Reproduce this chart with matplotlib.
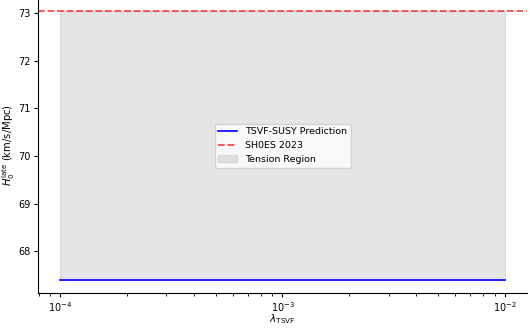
import numpy as np
import matplotlib.pyplot as plt

# values
lam_tsvf = [1e-4, 1e-3, 1e-2]
h0_pred = [67.4, 67.4, 67.4]
h0_shoes = 73.04

plt.rcParams['font.size'] = 7

fig = plt.figure(figsize=(5.3, 3.3), dpi=100)
ax = fig.add_axes([38 / 530, 37 / 330, 489 / 530, 295 / 330])

ax.plot(lam_tsvf, h0_pred, color='blue', lw=1.2, label='TSVF-SUSY Prediction')
ax.axhline(h0_shoes, color='red', ls='--', lw=1.3, alpha=0.7, label='SH0ES 2023')
ax.fill_between(lam_tsvf, h0_pred, h0_shoes, color='gray', alpha=0.2,
                label='Tension Region')

ax.set_xscale('log')
ax.set_xlim(10 ** -4.1, 10 ** -1.9)
ax.set_ylim(67.12, 73.32)
ax.set_yticks([68, 69, 70, 71, 72, 73])
ax.tick_params(which='major', length=3, pad=2)
ax.tick_params(which='minor', length=2)
ax.spines['top'].set_visible(False)
ax.spines['right'].set_visible(False)

ax.set_xlabel(r'$\lambda_{\rm TSVF}$', fontsize=7.5)
ax.xaxis.set_label_coords(0.5, -0.065)
ax.set_ylabel(r'$H_0^{\rm late}$ (km/s/Mpc)', fontsize=7.2)
ax.yaxis.set_label_coords(-0.043, 0.5)
ax.legend(loc='center', fontsize=6.8)

fig.savefig('out.png', dpi=100)
